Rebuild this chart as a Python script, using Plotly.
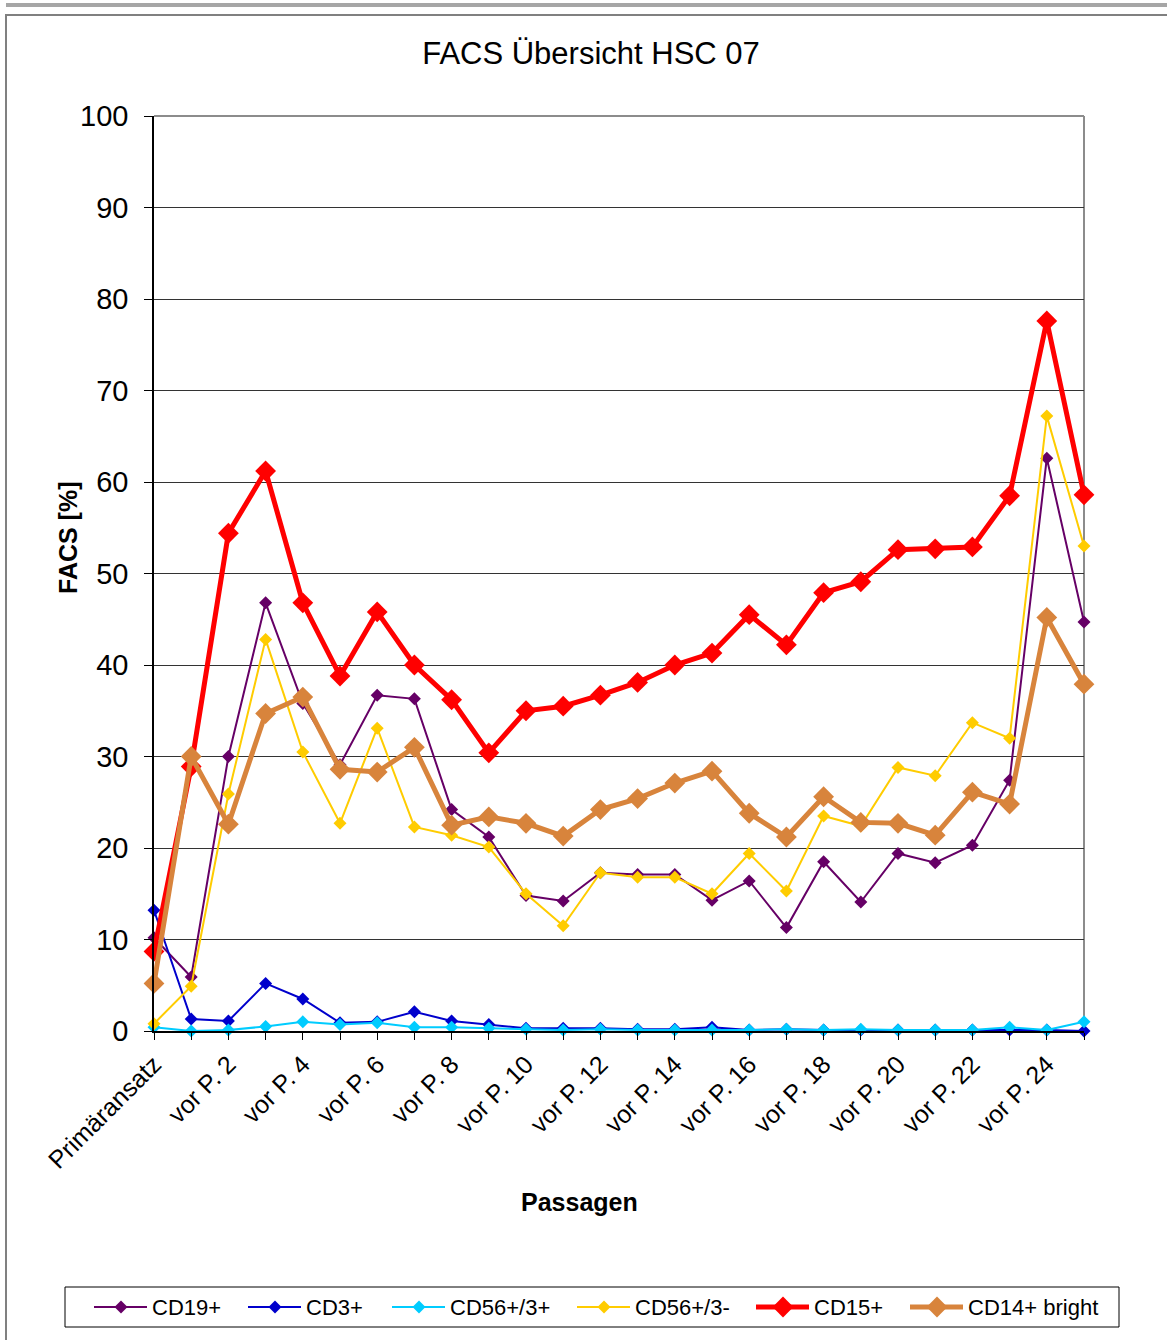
import plotly.graph_objects as go

# Passages (x categories)
categories = ["Primäransatz"] + [f"vor P. {i}" for i in range(1, 26)]
# Only every second passage is labelled on the axis
tick_labels = [c if i % 2 == 0 else "" for i, c in enumerate(categories)]

cd19 = [10.2, 5.9, 30.0, 46.8, 35.8, 29.1, 36.7, 36.3, 24.2, 21.2, 14.8, 14.2, 17.3, 17.1,
        17.1, 14.3, 16.4, 11.3, 18.5, 14.1, 19.4, 18.4, 20.3, 27.4, 62.6, 44.7]
cd3 = [13.2, 1.3, 1.1, 5.2, 3.5, 0.9, 1.0, 2.1, 1.1, 0.7, 0.3, 0.3, 0.3, 0.2,
       0.2, 0.4, 0.1, 0.2, 0.1, 0.1, 0.1, 0.1, 0.1, 0.1, 0.1, 0.0]
cd56_3pos = [0.4, 0.0, 0.1, 0.5, 1.0, 0.7, 0.9, 0.4, 0.4, 0.3, 0.2, 0.1, 0.2, 0.1,
             0.1, 0.1, 0.1, 0.2, 0.1, 0.2, 0.1, 0.1, 0.1, 0.4, 0.1, 1.0]
cd56_3neg = [0.8, 4.9, 25.9, 42.8, 30.5, 22.7, 33.1, 22.3, 21.4, 20.1, 15.0, 11.5, 17.3, 16.8,
             16.8, 15.0, 19.4, 15.3, 23.5, 22.4, 28.8, 27.9, 33.7, 32.0, 67.2, 53.0]
cd15 = [8.7, 28.9, 54.4, 61.2, 46.8, 38.8, 45.8, 40.0, 36.2, 30.4, 35.0, 35.5, 36.7, 38.1,
        40.0, 41.3, 45.5, 42.2, 47.9, 49.1, 52.6, 52.7, 52.9, 58.5, 77.6, 58.6]
cd14 = [5.2, 30.0, 22.6, 34.7, 36.5, 28.6, 28.3, 31.0, 22.5, 23.4, 22.7, 21.3, 24.2, 25.4,
        27.1, 28.4, 23.8, 21.2, 25.6, 22.8, 22.7, 21.4, 26.1, 24.8, 45.2, 37.9]

series_names = ["CD19+", "CD3+", "CD56+/3+", "CD56+/3-", "CD15+", "CD14+ bright"]
series_values = [cd19, cd3, cd56_3pos, cd56_3neg, cd15, cd14]
series_colors = ["#660066", "#0000CC", "#00CCFF", "#FFCC00", "#FF0000", "#D8843C"]
line_widths = [2, 2, 2, 2, 5, 5]
marker_sizes = [10, 10, 10, 10, 16, 16]

FONT = "Liberation Sans, Arial, sans-serif"

fig = go.Figure()
for name, vals, color, lw, ms in zip(series_names, series_values, series_colors,
                                     line_widths, marker_sizes):
    fig.add_trace(go.Scatter(
        x=categories, y=vals, name=name, mode="lines+markers",
        line=dict(color=color, width=lw),
        marker=dict(symbol="diamond", size=ms, color=color, line=dict(width=0)),
        cliponaxis=False, showlegend=False,
    ))

W, H = 1167, 1340
L, R, T, B = 154, 1084, 116, 1031


def px(x):
    return (x - L) / (R - L)


def py(y):
    return (B - y) / (B - T)


shapes = [
    # page bars and chart border
    dict(type="rect", xref="paper", yref="paper", x0=px(6), x1=px(1170), y0=py(3), y1=py(7),
         fillcolor="#A6A6A6", line=dict(width=0), layer="below"),
    dict(type="line", xref="paper", yref="paper", x0=px(6), x1=px(1170), y0=py(15), y1=py(15),
         line=dict(color="#808080", width=2), layer="below"),
    dict(type="line", xref="paper", yref="paper", x0=px(6), x1=px(6), y0=py(14), y1=py(1345),
         line=dict(color="#808080", width=2), layer="below"),
    # plot area frame (top and right)
    dict(type="line", xref="paper", yref="paper", x0=0, x1=1, y0=1, y1=1,
         line=dict(color="#8C8C8C", width=2), layer="below"),
    dict(type="line", xref="paper", yref="paper", x0=1, x1=1, y0=0, y1=1,
         line=dict(color="#8C8C8C", width=2), layer="below"),
    # legend box
    dict(type="rect", xref="paper", yref="paper", x0=px(65), x1=px(1119), y0=py(1287), y1=py(1327),
         line=dict(color="black", width=1), fillcolor="rgba(0,0,0,0)"),
]

annotations = [
    dict(text="<b>Passagen</b>", xref="paper", yref="paper", x=px(579), y=py(1202),
         xanchor="center", yanchor="middle", showarrow=False,
         font=dict(size=25, family=FONT)),
    dict(text="<b>FACS [%]</b>", xref="paper", yref="paper", x=px(68), y=py(538),
         xanchor="center", yanchor="middle", showarrow=False, textangle=-90,
         font=dict(size=25, family=FONT)),
]

# Legend row: sample line with a diamond, followed by the series name
legend_y = 1307
legend_starts = [94, 248, 392, 577, 756, 910]
for name, color, lw, ms, x0 in zip(series_names, series_colors, line_widths,
                                   marker_sizes, legend_starts):
    shapes.append(dict(type="line", xref="paper", yref="paper",
                       x0=px(x0), x1=px(x0 + 53), y0=py(legend_y), y1=py(legend_y),
                       line=dict(color=color, width=lw)))
    r = ms * 0.65
    shapes.append(dict(type="path", xref="paper", yref="paper",
                       xsizemode="pixel", ysizemode="pixel",
                       xanchor=px(x0 + 27), yanchor=py(legend_y),
                       path=f"M {-r} 0 L 0 {r} L {r} 0 L 0 {-r} Z",
                       fillcolor=color, line=dict(width=0)))
    annotations.append(dict(text=name, xref="paper", yref="paper",
                            x=px(x0 + 56), y=py(legend_y), xanchor="left", yanchor="middle",
                            showarrow=False, font=dict(size=22, family=FONT)))

fig.update_layout(
    width=W, height=H,
    margin=dict(l=L, r=W - R, t=T, b=H - B),
    paper_bgcolor="white", plot_bgcolor="white",
    font=dict(family=FONT, color="black"),
    title=dict(text="FACS Übersicht HSC 07", xref="container", x=591 / W, xanchor="center",
               y=1 - 53 / H, yanchor="middle", font=dict(size=31, family=FONT)),
    showlegend=False,
    shapes=shapes,
    annotations=annotations,
)

fig.update_xaxes(
    type="category", categoryorder="array", categoryarray=categories,
    range=[0, len(categories) - 1],
    tickmode="array", tickvals=categories, ticktext=tick_labels,
    tickangle=-45, tickfont=dict(size=25, family=FONT),
    ticks="outside", ticklen=7, tickcolor="black",
    showline=True, linecolor="black", linewidth=1.5,
    showgrid=False, zeroline=False,
)
fig.update_yaxes(
    range=[0, 100], tickmode="linear", tick0=0, dtick=10,
    tickfont=dict(size=29, family=FONT), ticklabelstandoff=10,
    ticks="outside", ticklen=8, tickcolor="black",
    showline=True, linecolor="black", linewidth=1.5,
    showgrid=True, gridcolor="#333333", gridwidth=1,
    zeroline=False,
)

fig.write_html("out.html")
